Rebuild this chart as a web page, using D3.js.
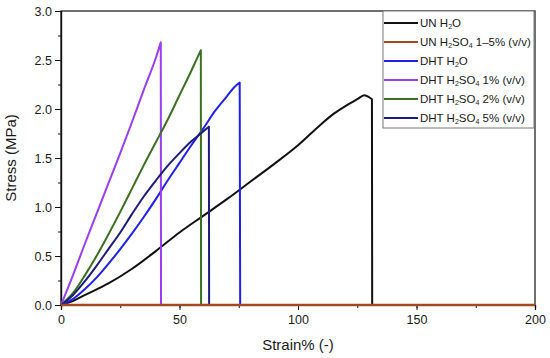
<!DOCTYPE html>
<html>
<head>
<meta charset="utf-8">
<script src="https://cdn.jsdelivr.net/npm/d3@7"></script>
<style>
  body { margin: 0; background: #fff; }
  text { font-family: "Liberation Sans", Arial, sans-serif; fill: #1a1a1a; }
</style>
</head>
<body>
<div id="chart"></div>
<script>
// strain (%) / stress (MPa) pairs; last point of each is the break
const unWater = [[0,0],[5,0.04],[10,0.1],[20,0.22],[30,0.37],[40,0.55],[50,0.74],[60,0.91],[70,1.08],
  [80,1.26],[90,1.44],[100,1.63],[110,1.85],[115,1.95],[120,2.03],[125,2.1],[128,2.14],[130,2.12],
  [131.2,2.1],[131.3,0]];
const unAcid = [[0,0],[200,0]];
const dhtWater = [[0,0],[5,0.06],[10,0.16],[15,0.28],[20,0.42],[25,0.57],[30,0.73],[35,0.9],[40,1.08],
  [45,1.27],[50,1.45],[55,1.63],[60,1.8],[65,1.98],[70,2.13],[73,2.22],[75.4,2.27],[75.6,0]];
const dhtAcid1 = [[0,0],[5,0.3],[10,0.62],[15,0.93],[20,1.24],[25,1.55],[30,1.87],[35,2.2],
  [40,2.52],[42.1,2.68],[42.2,0]];
const dhtAcid2 = [[0,0],[5,0.12],[10,0.3],[15,0.5],[20,0.72],[25,0.95],[30,1.19],[35,1.43],
  [40,1.66],[45,1.89],[50,2.14],[55,2.39],[59,2.6],[59.1,0]];
const dhtAcid5 = [[0,0],[5,0.1],[10,0.24],[15,0.4],[20,0.57],[25,0.74],[30,0.93],[35,1.11],
  [40,1.27],[45,1.42],[50,1.55],[55,1.67],[60,1.77],[62.4,1.82],[62.5,0]];

const xTicks = [0, 50, 100, 150, 200];
const yTicks = [0, 0.5, 1, 1.5, 2, 2.5, 3];

const series = [
  { label: [['UN H'], ['2', 'sub'], ['O']], data: unWater, color: '#111111' },
  { label: [['UN H'], ['2', 'sub'], ['SO'], ['4', 'sub'], [' 1\u20135% (v/v)']], data: unAcid, color: '#a3481f' },
  { label: [['DHT H'], ['2', 'sub'], ['O']], data: dhtWater, color: '#1f1fee' },
  { label: [['DHT H'], ['2', 'sub'], ['SO'], ['4', 'sub'], [' 1% (v/v)']], data: dhtAcid1, color: '#9a3cf0' },
  { label: [['DHT H'], ['2', 'sub'], ['SO'], ['4', 'sub'], [' 2% (v/v)']], data: dhtAcid2, color: '#3b7020' },
  { label: [['DHT H'], ['2', 'sub'], ['SO'], ['4', 'sub'], [' 5% (v/v)']], data: dhtAcid5, color: '#1c1c7a' },
];

const width = 550, height = 358;
const margin = { left: 61, right: 15, top: 11, bottom: 53 };

const svg = d3.select('#chart').append('svg')
  .attr('width', width)
  .attr('height', height);

const x = d3.scaleLinear().domain([0, 200]).range([margin.left, width - margin.right]);
const y = d3.scaleLinear().domain([0, 3]).range([height - margin.bottom, margin.top]);

// frame
svg.append('rect')
  .attr('x', x(0)).attr('y', y(3))
  .attr('width', x(200) - x(0)).attr('height', y(0) - y(3))
  .attr('fill', 'none').attr('stroke', '#111').attr('stroke-width', 1.2);

// minor + major ticks
const xAxis = svg.append('g').attr('transform', `translate(0,${y(0)})`);
xAxis.call(d3.axisBottom(x).tickValues(d3.range(0, 201, 25)).tickSize(3).tickFormat(''));
xAxis.append('g').call(d3.axisBottom(x).tickValues(xTicks).tickSize(5).tickPadding(5));

const yAxis = svg.append('g').attr('transform', `translate(${x(0)},0)`);
yAxis.call(d3.axisLeft(y).tickValues(d3.range(0, 3.01, 0.25)).tickSize(3).tickFormat(''));
yAxis.append('g').call(d3.axisLeft(y).tickValues(yTicks).tickSize(6).tickPadding(3).tickFormat(d3.format('.1f')));

svg.selectAll('.domain').attr('stroke', '#111').attr('stroke-width', 1.2);
svg.selectAll('.tick line').attr('stroke', '#111');
svg.selectAll('.tick text')
  .style('font-family', '"Liberation Sans", Arial, sans-serif')
  .style('font-size', '12.5px').attr('fill', '#1a1a1a');

svg.append('text')
  .attr('x', (x(0) + x(200)) / 2).attr('y', 350)
  .attr('text-anchor', 'middle').style('font-size', '15px')
  .text('Strain% (-)');

svg.append('text')
  .attr('transform', `translate(16,${(y(0) + y(3)) / 2}) rotate(-90)`)
  .attr('text-anchor', 'middle').style('font-size', '15px')
  .text('Stress (MPa)');

// smooth rise up to the peak, then a straight drop at the break
const line = d3.line().x(d => x(d[0])).y(d => y(d[1])).curve(d3.curveMonotoneX);
const curvePath = data => {
  const last = data[data.length - 1];
  return line(data.slice(0, -1)) + `L${x(last[0])},${y(last[1])}`;
};

series.forEach((s, i) => {
  if (i === 1) return;
  svg.append('path')
    .attr('d', curvePath(s.data))
    .attr('fill', 'none')
    .attr('stroke', s.color)
    .attr('stroke-width', 2)
    .attr('stroke-linejoin', 'round');
});
// flat curve on the axis is drawn last
svg.append('path')
  .attr('d', line(unAcid))
  .attr('fill', 'none')
  .attr('stroke', series[1].color)
  .attr('stroke-width', 2.5);

// legend
const lg = svg.append('g').attr('transform', 'translate(383,11)');
lg.append('rect')
  .attr('width', 151).attr('height', 117)
  .attr('fill', '#fff').attr('stroke', '#777').attr('stroke-width', 1);

series.forEach((s, i) => {
  const ry = 12 + i * 19;
  lg.append('line')
    .attr('x1', 1).attr('x2', 35).attr('y1', ry).attr('y2', ry)
    .attr('stroke', s.color).attr('stroke-width', 2);
  const t = lg.append('text')
    .attr('x', 37).attr('y', ry + 4)
    .style('font-size', '11.5px');
  s.label.forEach(part => {
    const ts = t.append('tspan').text(part[0]);
    if (part[1] === 'sub') ts.attr('baseline-shift', '-30%').style('font-size', '7px');
  });
});
</script>
</body>
</html>
